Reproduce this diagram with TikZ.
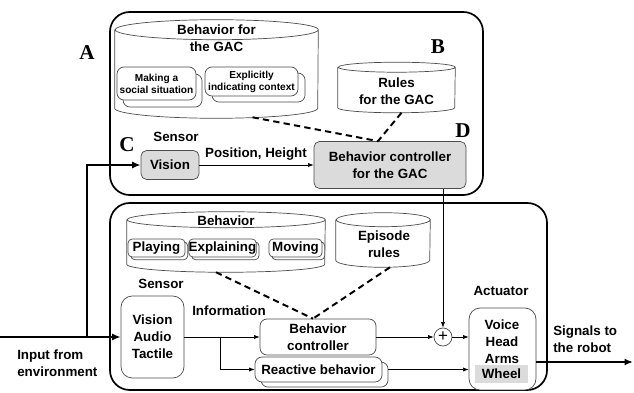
\documentclass[tikz,border=0pt]{standalone}
\usepackage{fontspec}
\setmainfont{Liberation Sans}
\newfontfamily\lblfont{Liberation Serif}
\usepackage{tikz}
\usetikzlibrary{shadows,calc,arrows.meta}
\definecolor{boxgray}{gray}{0.86}
\definecolor{edgegray}{gray}{0.3}
\newcommand{\px}{0.025cm}
% #1 body node, #2 x radius, #3 y radius (in px)
\newcommand{\drawdb}[3]{\filldraw[dbline] (#1.north west) -- (#1.south west) arc[start angle=180,end angle=360,x radius=#2*\px,y radius=#3*\px] -- (#1.north east) arc[start angle=0,end angle=360,x radius=#2*\px,y radius=#3*\px];}
\tikzstyle{frame}=[draw,line width=1.2pt,rounded corners=14pt]
\tikzstyle{dbody}=[rectangle,inner sep=0pt]
\tikzstyle{dbline}=[draw=edgegray,fill=white,line width=0.5pt]
\tikzstyle{gbox}=[rectangle,draw=edgegray,fill=boxgray,rounded corners=4pt,inner sep=0pt,align=center,line width=0.5pt]
\tikzstyle{wbox}=[rectangle,draw=edgegray,fill=white,rounded corners=5pt,inner sep=0pt,align=center,line width=0.5pt]
\tikzstyle{lbl}=[inner sep=0pt,align=center]
\tikzstyle{small}=[font=\bfseries\fontsize{7.2}{8.5}\selectfont]
\tikzstyle{letter}=[inner sep=0pt,font=\lblfont\bfseries\fontsize{15}{15}\selectfont]
\tikzstyle{flow}=[draw=black,line width=0.5pt,-{Latex[length=4pt,width=3pt]}]
\tikzstyle{thickflow}=[draw=black,line width=1.4pt,-{Latex[length=6pt,width=5pt]}]
\tikzstyle{dashline}=[line width=1.4pt,dash pattern=on 4.5pt off 3pt]

\begin{document}
\begin{tikzpicture}[x=\px,y=-\px,font=\bfseries\fontsize{9.5}{12}\selectfont]
\useasboundingbox (0,0) rectangle (634,393);
\draw[frame] (110,12) rectangle (483,195);
\draw[frame] (110,203) rectangle (547,390);

\node[dbody,minimum width=203*\px,minimum height=78*\px] (gacbeh) at (216.5,69) {};
\drawdb{gacbeh}{101.5}{10}
\node[lbl] (gacbehtxt) at (216.5,38) {Behavior for\\the GAC};
\node[wbox,small,minimum width=79*\px,minimum height=33*\px,copy shadow={shadow xshift=4.3pt,shadow yshift=-5pt,draw=edgegray,fill=white}] (social) at (156.5,83.5) {Making a\\social situation};
\node[wbox,small,minimum width=93*\px,minimum height=29*\px,copy shadow={shadow xshift=5pt,shadow yshift=-4.3pt,draw=edgegray,fill=white}] (context) at (251.5,81.5) {Explicitly\\indicating context};
\node[dbody,minimum width=117*\px,minimum height=40*\px] (gacrules) at (396.5,87.5) {};
\drawdb{gacrules}{58.5}{5}
\node[lbl] (gacrulestxt) at (396.5,91) {Rules\\for the GAC};

\node[gbox,minimum width=58*\px,minimum height=29*\px] (vision) at (170,165) {Vision};
\node[gbox,minimum width=152*\px,minimum height=47*\px] (bcgac) at (390,165) {Behavior controller\\for the GAC};
\node[lbl] (sensortop) at (176,137) {Sensor};
\node[lbl] (poslbl) at (256,154) {Position, Height};

\node[letter] (la) at (87,53) {A};
\node[letter] (lb) at (438,47) {B};
\node[letter] (lc) at (127,145) {C};
\node[letter] (ld) at (463,131) {D};

\node[dbody,minimum width=198*\px,minimum height=44*\px] (beh) at (226,242) {};
\drawdb{beh}{99}{8}
\node[lbl] (behtxt) at (226,221) {Behavior};
\node[wbox,rounded corners=3pt,minimum width=57*\px,minimum height=18*\px,copy shadow={shadow xshift=2pt,shadow yshift=-2pt,draw=edgegray,fill=white}] (playing) at (156.5,248) {Playing};
\node[wbox,rounded corners=3pt,minimum width=63*\px,minimum height=18*\px,copy shadow={shadow xshift=2pt,shadow yshift=-2pt,draw=edgegray,fill=white}] (explaining) at (222.5,248) {Explaining};
\node[wbox,rounded corners=3pt,minimum width=53*\px,minimum height=18*\px,copy shadow={shadow xshift=2pt,shadow yshift=-2pt,draw=edgegray,fill=white}] (moving) at (295.5,248) {Moving};
\node[dbody,minimum width=94*\px,minimum height=40*\px] (episode) at (383,240) {};
\drawdb{episode}{47}{7}
\node[lbl] (episodetxt) at (384,244) {Episode\\rules};

\node[lbl] (sensorbot) at (161,284) {Sensor};
\node[wbox,rounded corners=8pt,minimum width=63*\px,minimum height=82*\px] (vat) at (152.5,337) {Vision\\Audio\\Tactile};
\node[lbl] (infolbl) at (229,311) {Information};
\node[wbox,minimum width=116*\px,minimum height=36*\px] (bc) at (318,337) {Behavior\\controller};
\node[wbox,minimum width=127*\px,minimum height=25*\px,copy shadow={shadow xshift=4.3pt,shadow yshift=-3.6pt,draw=edgegray,fill=white}] (react) at (318.5,369.5) {Reactive behavior};
\node[circle,draw=edgegray,line width=0.5pt,minimum size=18*\px,inner sep=0pt,font=\fontsize{12}{12}\selectfont] (plus) at (443,337) {+};
\node[lbl] (actlbl) at (501,291) {Actuator};
\node[wbox,rounded corners=8pt,minimum width=67*\px,minimum height=82*\px] (act) at (502.5,349) {};
\node[lbl] (acttxt) at (502,342) {Voice\\Head\\Arms};
\node[fill=boxgray,inner sep=0pt,minimum width=53*\px,minimum height=18*\px] (wheel) at (501.5,374) {Wheel};

\node[lbl,align=left,anchor=west] (inlbl) at (17,363) {Input from\\environment};
\node[lbl,align=left,anchor=west] (outlbl) at (553,339) {Signals to\\the robot};

\coordinate (inp) at (0,337);
\coordinate (split) at (87,337);
\coordinate (br) at (220,337);
\coordinate (outp) at (633,362);
\coordinate (dj1) at ($(bcgac.north)+(-12,0)$);
\coordinate (dj2) at ($(bc.north)+(-5,0)$);

\draw[dashline] ($(gacbeh.south)+(36,9)$) -- (dj1);
\draw[dashline] ($(gacrules.south)+(5,5)$) -- (dj1);
\draw[dashline] ($(beh.south)+(-10,8)$) -- (dj2);
\draw[dashline] ($(episode.south)+(7,7)$) -- (dj2);

\draw[thickflow] (inp) -- (vat.west);
\draw[thickflow] (split) |- (vision.west);
\draw[flow] (vision.east) -- (bcgac.west);
\draw[flow] (bcgac.south -| plus) -- (plus.north);
\draw[flow] (vat.east) -- (bc.west);
\draw[flow] (br) |- (react.west);
\draw[flow] (bc.east) -- (plus.west);
\draw[flow] (plus.east) -- (plus.east -| act.west);
\draw[flow] ($(react.east)+(6,0)$) -- (react.east -| act.west);
\draw[thickflow] (act.east |- outp) -- (outp);
\end{tikzpicture}
\end{document}
